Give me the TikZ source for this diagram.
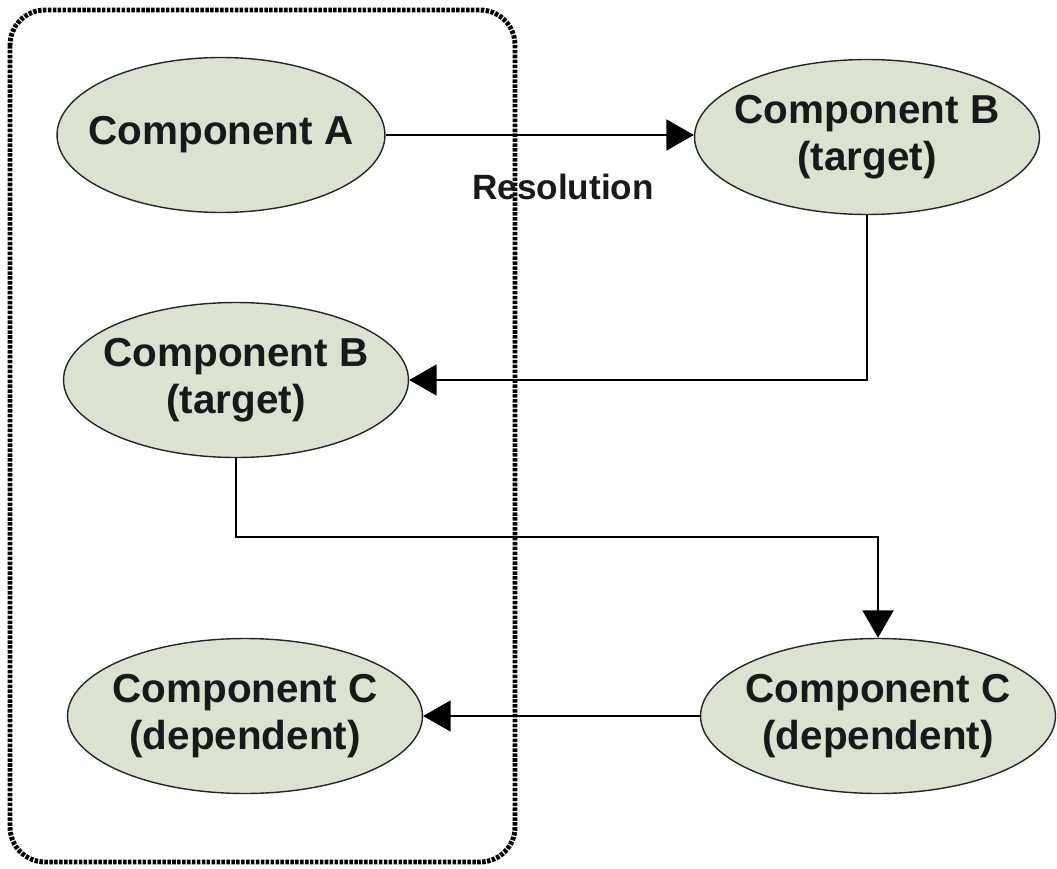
\documentclass[tikz,border=0pt]{standalone}
\usepackage{fontspec}
\setmainfont{Liberation Sans}
\usepackage{tikz}
\usetikzlibrary{arrows.meta, calc, positioning, shapes.geometric}
\definecolor{compfill}{RGB}{221,226,208}
\tikzset{%
    edge/.style={%
        -{Triangle[length=0.55cm, width=0.62cm]},
        line width=1.1pt,
    },
    comp/.style={%
        ellipse,
        fill=compfill,
        draw=black!85, line width=0.8pt,
        minimum width=6.9cm,
        minimum height=3.1cm,
        inner xsep=-0.4cm, inner ysep=0pt,
        font=\fontsize{23}{27}\selectfont\bfseries,
        text=black!90,
        align=center,
    },
    tag/.style={%
        font=\fontsize{20}{24}\selectfont\bfseries,
        text=black!90,
    },
    frame/.style={%
        line width=2.8pt,
        dash pattern=on 2pt off 0.8pt,
        rounded corners=0.7cm,
    },
}

\begin{document}
\begin{tikzpicture}[x=0.02cm, y=-0.02cm]
	\useasboundingbox (0,0) rectangle (1057,868);

	\draw[frame] (10,10) rectangle (515,862);

	\node [comp, minimum width=6.56cm] at (221,135) (comp_a) {Component A};
	\node [comp] at (867,137) (target_r) {Component B\\(target)};
	\node [comp] at (236,380) (target_l) {Component B\\(target)};
	\node [comp, minimum width=7.1cm] at (878,716) (dep_r) {Component C\\(dependent)};
	\node [comp, minimum width=7.1cm] at (245,716) (dep_l) {Component C\\(dependent)};

	\node [tag] at (563,187) (resolution) {Resolution};

	\draw[edge] (comp_a.east) -- (comp_a.east -| target_r.west);
	\draw[edge] (target_r.south) |- (target_l.east);
	\draw[edge] (target_l.south) -- ++(0,79) -| (dep_r.north);
	\draw[edge] (dep_r.west) -- (dep_l.east);
\end{tikzpicture}
\end{document}
